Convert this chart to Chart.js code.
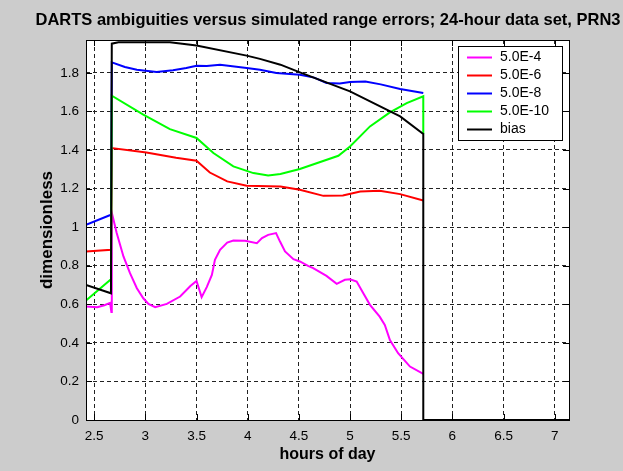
<!DOCTYPE html>
<html>
<head>
<meta charset="utf-8">
<script src="https://cdn.jsdelivr.net/npm/chart.js@4"></script>
<style>
  html, body { margin: 0; padding: 0; background: #cccccc; }
  canvas { display: block; }
</style>
</head>
<body>
<canvas id="darts" width="623" height="471"></canvas>
<script>
// series (hours of day -> dimensionless)
const magentaX = [2.42, 2.53, 2.60, 2.655, 2.668, 2.672, 2.72, 2.786, 2.85, 2.917, 2.98, 3.03, 3.096, 3.21, 3.34, 3.44, 3.50, 3.55, 3.60, 3.65, 3.68, 3.73, 3.80, 3.86, 3.975, 4.09, 4.14, 4.20, 4.277, 4.316, 4.365, 4.447, 4.51, 4.59, 4.64, 4.77, 4.87, 4.95, 5.0, 5.065, 5.13, 5.195, 5.29, 5.34, 5.39, 5.47, 5.586, 5.716];
const magentaY = [0.588, 0.585, 0.595, 0.607, 0.56, 1.075, 0.969, 0.848, 0.761, 0.683, 0.631, 0.602, 0.585, 0.602, 0.640, 0.695, 0.721, 0.637, 0.689, 0.752, 0.830, 0.882, 0.920, 0.930, 0.929, 0.917, 0.943, 0.960, 0.969, 0.925, 0.874, 0.834, 0.822, 0.799, 0.787, 0.747, 0.706, 0.727, 0.730, 0.718, 0.657, 0.597, 0.536, 0.493, 0.415, 0.346, 0.277, 0.239];

const redX = [2.42, 2.664, 2.672, 3.01, 3.30, 3.50, 3.63, 3.80, 3.99, 4.32, 4.51, 4.74, 4.93, 5.10, 5.29, 5.49, 5.716];
const redY = [0.874, 0.882, 1.410, 1.387, 1.360, 1.344, 1.283, 1.237, 1.214, 1.211, 1.194, 1.162, 1.164, 1.185, 1.188, 1.171, 1.138];

const blueX = [2.42, 2.664, 2.672, 2.80, 2.917, 3.11, 3.27, 3.40, 3.50, 3.60, 3.73, 3.99, 4.12, 4.28, 4.51, 4.65, 4.77, 4.90, 5.0, 5.15, 5.30, 5.49, 5.716];
const blueY = [1.012, 1.064, 1.854, 1.830, 1.816, 1.804, 1.813, 1.825, 1.837, 1.835, 1.842, 1.825, 1.816, 1.799, 1.790, 1.775, 1.747, 1.745, 1.752, 1.755, 1.740, 1.716, 1.695];

const greenX = [2.42, 2.664, 2.672, 2.98, 3.24, 3.50, 3.665, 3.86, 4.056, 4.20, 4.32, 4.51, 4.886, 5.0, 5.195, 5.39, 5.554, 5.716, 5.716];
const greenY = [0.619, 0.730, 1.681, 1.583, 1.508, 1.462, 1.384, 1.315, 1.280, 1.268, 1.275, 1.301, 1.370, 1.418, 1.522, 1.595, 1.643, 1.678, 1.483];

const biasX = [2.42, 2.664, 2.672, 2.737, 3.24, 3.50, 3.99, 4.12, 4.32, 4.51, 5.0, 5.49, 5.716, 5.716, 7.14];
const biasY = [0.70, 0.657, 1.951, 1.958, 1.958, 1.942, 1.889, 1.872, 1.842, 1.802, 1.704, 1.574, 1.483, 0, 0];

const seriesNames = ['5.0E-4', '5.0E-6', '5.0E-8', '5.0E-10', 'bias'];
const seriesColors = ['#ff00ff', '#ff0000', '#0000ff', '#00ff00', '#000000'];

const xTicks = [2.5, 3, 3.5, 4, 4.5, 5, 5.5, 6, 6.5, 7];
const yTicks = [0, 0.2, 0.4, 0.6, 0.8, 1, 1.2, 1.4, 1.6, 1.8];

const chartTitle = 'DARTS ambiguities versus simulated range errors; 24-hour data set, PRN3';

function pts(xs, ys) {
    return xs.map((x, i) => ({ x: x, y: ys[i] }));
}

const allSeries = [pts(magentaX, magentaY), pts(redX, redY), pts(blueX, blueY), pts(greenX, greenY), pts(biasX, biasY)];

const FONT = 'Liberation Sans, Arial, sans-serif';

// matlab-ish frame: grey figure, white axes, box, inward ticks, title, legend
const framePlugin = {
    id: 'frame',
    beforeDraw(chart) {
        const { ctx, chartArea: a } = chart;
        ctx.save();
        ctx.fillStyle = '#cccccc';
        ctx.fillRect(0, 0, chart.width, chart.height);
        ctx.fillStyle = '#ffffff';
        ctx.fillRect(a.left, a.top, a.right - a.left, a.bottom - a.top);
        ctx.restore();
    },
    afterDraw(chart) {
        const { ctx, chartArea: a, scales } = chart;
        const len = 6;
        ctx.save();
        ctx.strokeStyle = '#000';
        ctx.lineWidth = 1;
        ctx.beginPath();
        xTicks.forEach(v => {
            const px = Math.round(scales.x.getPixelForValue(v)) + 0.5;
            ctx.moveTo(px, a.bottom); ctx.lineTo(px, a.bottom - len);
            ctx.moveTo(px, a.top); ctx.lineTo(px, a.top + len);
        });
        yTicks.forEach(v => {
            const py = Math.round(scales.y.getPixelForValue(v)) + 0.5;
            ctx.moveTo(a.left, py); ctx.lineTo(a.left + len, py);
            ctx.moveTo(a.right, py); ctx.lineTo(a.right - len, py);
        });
        ctx.stroke();
        ctx.strokeRect(Math.round(a.left) + 0.5, Math.round(a.top) + 0.5, Math.round(a.right - a.left), Math.round(a.bottom - a.top));

        // title, centred over the axes
        ctx.fillStyle = '#000';
        ctx.font = 'bold 16.5px ' + FONT;
        ctx.textAlign = 'center';
        ctx.textBaseline = 'middle';
        ctx.fillText(chartTitle, (a.left + a.right) / 2 + 0.5, 20);

        // legend box
        const lx = 458, ly = 46, lw = 104, lh = 94;
        ctx.fillStyle = '#ffffff';
        ctx.fillRect(lx, ly, lw, lh);
        ctx.strokeRect(lx + 0.5, ly + 0.5, lw, lh);
        ctx.font = '14px ' + FONT;
        ctx.textAlign = 'left';
        chart.data.datasets.forEach((ds, i) => {
            const y = ly + 11.5 + i * 18;
            ctx.strokeStyle = ds.borderColor;
            ctx.lineWidth = 2;
            ctx.beginPath();
            ctx.moveTo(467, y); ctx.lineTo(492, y);
            ctx.stroke();
            ctx.fillStyle = '#000';
            ctx.fillText(ds.label, 500, y);
        });
        ctx.restore();
    }
};

const ctx = document.getElementById('darts').getContext('2d');
new Chart(ctx, {
    type: 'scatter',
    data: {
        datasets: allSeries.map((data, i) => ({
            label: seriesNames[i],
            data: data,
            borderColor: seriesColors[i],
            backgroundColor: seriesColors[i],
            borderWidth: 2,
            showLine: true,
            pointRadius: 0,
            tension: 0,
            order: allSeries.length - i
        }))
    },
    options: {
        responsive: false,
        animation: false,
        layout: { padding: { left: 0, right: 54, top: 40, bottom: 0 } },
        scales: {
            x: {
                type: 'linear',
                min: 2.42,
                max: 7.14,
                afterBuildTicks: scale => { scale.ticks = xTicks.map(v => ({ value: v })); },
                afterFit: scale => { scale.height = 51; },
                ticks: {
                    padding: 8,
                    color: '#000',
                    font: { family: FONT, size: 13.5 },
                    callback: v => String(v)
                },
                grid: { color: '#222', lineWidth: 1, drawTicks: false },
                border: { display: false, dash: [4, 3] },
                title: {
                    display: true,
                    text: 'hours of day',
                    color: '#000',
                    font: { family: FONT, size: 16, weight: 'bold', lineHeight: 1.2 },
                    padding: { top: 0, bottom: 7 }
                }
            },
            y: {
                type: 'linear',
                min: 0,
                max: 1.97,
                afterBuildTicks: scale => { scale.ticks = yTicks.map(v => ({ value: v })); },
                afterFit: scale => { scale.width = 86; },
                ticks: {
                    padding: 7,
                    color: '#000',
                    font: { family: FONT, size: 13.5 },
                    callback: v => String(v)
                },
                grid: { color: '#222', lineWidth: 1, drawTicks: false },
                border: { display: false, dash: [4, 3] },
                title: {
                    display: true,
                    text: 'dimensionless',
                    color: '#000',
                    font: { family: FONT, size: 17, weight: 'bold', lineHeight: 1.2 },
                    padding: { top: 37, bottom: 0 }
                }
            }
        },
        plugins: {
            legend: { display: false },
            tooltip: { enabled: false },
            title: { display: false }
        }
    },
    plugins: [framePlugin]
});
</script>
</body>
</html>
